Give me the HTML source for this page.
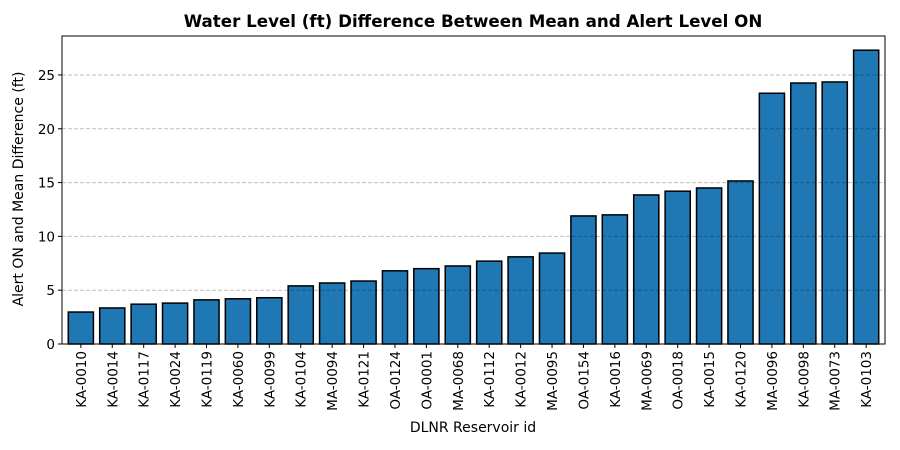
<!DOCTYPE html>
<html><head><meta charset="utf-8"><style>
body{margin:0;background:#fff;}
svg{display:block;font-family:"DejaVu Sans","Liberation Sans",sans-serif;}
</style></head><body>
<svg id="chart" width="900" height="450">
<text x="473" y="27" text-anchor="middle" font-size="16.7" font-weight="bold">Water Level (ft) Difference Between Mean and Alert Level ON</text>
<text transform="translate(23,189) rotate(-90)" text-anchor="middle" font-size="14">Alert ON and Mean Difference (ft)</text>
<text x="473" y="432" text-anchor="middle" font-size="14">DLNR Reservoir id</text>
<g id="bars"></g><g id="grid"></g><g id="axes"></g>
</svg>
<script>
const categories=["KA-0010","KA-0014","KA-0117","KA-0024","KA-0119","KA-0060","KA-0099","KA-0104","MA-0094","KA-0121","OA-0124","OA-0001","MA-0068","KA-0112","KA-0012","MA-0095","OA-0154","KA-0016","MA-0069","OA-0018","KA-0015","KA-0120","MA-0096","KA-0098","MA-0073","KA-0103"];
const values=[2.97,3.35,3.7,3.8,4.1,4.2,4.3,5.4,5.67,5.85,6.8,7.0,7.25,7.7,8.1,8.45,11.9,12.0,13.85,14.2,14.5,15.15,23.3,24.25,24.35,27.3];
const yTicks=[0,5,10,15,20,25];
const L=62,R=885,T=36,B=344,yMax=28.62,xMin=-0.6,xMax=categories.length-0.4;
const NS="http://www.w3.org/2000/svg";
const x=i=>L+(i-xMin)/(xMax-xMin)*(R-L);
const y=v=>B-v/yMax*(B-T);
const bw=0.8*(R-L)/(xMax-xMin);
function mk(tag,attrs,parent,text){const e=document.createElementNS(NS,tag);for(const k in attrs)e.setAttribute(k,attrs[k]);if(text!==undefined)e.textContent=text;document.getElementById(parent).appendChild(e);return e;}
categories.forEach((c,i)=>{
 const r=mk("rect",{x:x(i)-bw/2,y:y(values[i]),width:bw,height:B-y(values[i]),fill:"#1f77b4",stroke:"#000","stroke-width":1.5},"bars");
 
 
 const t=mk("text",{transform:`translate(${x(i)+5},${B+7}) rotate(-90)`,"text-anchor":"end","font-size":13.5},"axes",c);
 
 
 mk("line",{x1:x(i),x2:x(i),y1:B,y2:B+4,stroke:"#000"},"axes");
});
yTicks.forEach(v=>{
 const g=mk("line",{x1:L,x2:R,y1:y(v),y2:y(v),stroke:"#000","stroke-opacity":0.25,"stroke-dasharray":"4,2"},"grid");
 
 
 mk("line",{x1:L-4,x2:L,y1:y(v),y2:y(v),stroke:"#000"},"axes");
 const t=mk("text",{x:L-7,y:y(v)+5,"text-anchor":"end","font-size":13.5},"axes",v);
 
 
});
const f=mk("rect",{x:L,y:T,width:R-L,height:B-T,fill:"none",stroke:"#000","stroke-width":1},"axes");


</script>
</body></html>
